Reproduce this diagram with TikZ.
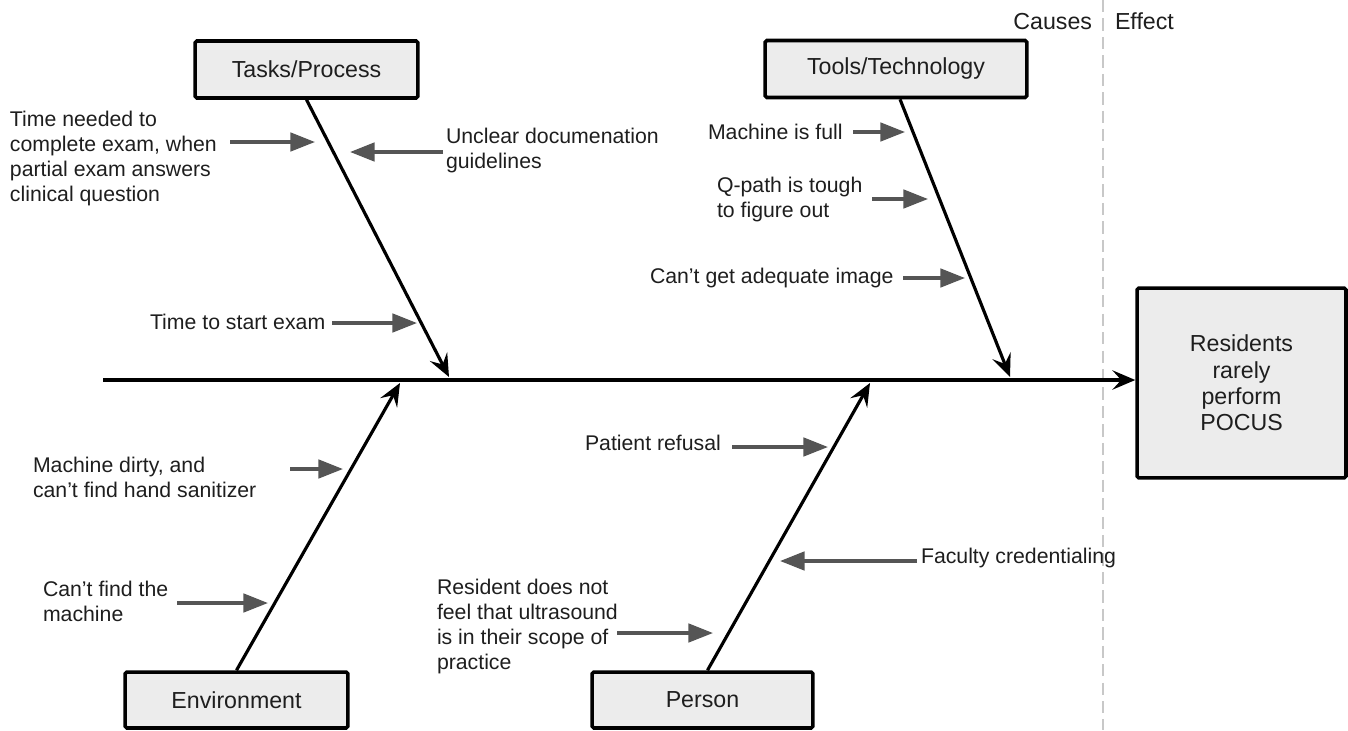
\documentclass[tikz,border=0pt]{standalone}
\usepackage{fontspec}
\setmainfont{Liberation Sans}
\usetikzlibrary{arrows.meta,calc}
\definecolor{agray}{RGB}{85,85,85}
\definecolor{boxfill}{RGB}{236,236,236}
\definecolor{txt}{RGB}{30,30,30}
\definecolor{dashgray}{RGB}{200,200,200}
\begin{document}
\begin{tikzpicture}[x=0.02cm,y=-0.02cm,
  lbl/.style={inner sep=0pt, outer sep=0pt, align=left, text=txt, font=\fontsize{12.1}{14.2}\selectfont},
  catbox/.style={draw=black, line width=2pt, fill=boxfill, rounded corners=1pt, text=txt, font=\fontsize{13.2}{15}\selectfont, inner sep=0pt},
  bone/.style={line width=1.8pt, -{Stealth[length=13pt,width=11pt,inset=5pt]}},
  garrow/.style={draw=agray, line width=1.9pt, -{Triangle[length=14pt,width=10.5pt]}},
  divider/.style={draw=dashgray, line width=1.2pt, dash pattern=on 7pt off 3.5pt}]
\useasboundingbox (0,0) rectangle (1348,730);

% divider and headings
\coordinate (dtop) at (1103,0);
\coordinate (dbot) at (1103,730);
\draw[divider] (dtop) -- (dbot);
\node[lbl, font=\fontsize{13.2}{15}\selectfont, anchor=base east] (causes) at (1092,30) {Causes};
\node[lbl, font=\fontsize{13.2}{15}\selectfont, anchor=base west] (effecthead) at (1115,30) {Effect};

% category boxes
\node[catbox, minimum width=4.46cm, minimum height=1.14cm] (tasks) at (306.5,69.5) {Tasks/Process};
\node[catbox, minimum width=5.24cm, minimum height=1.14cm] (tools) at (896,69) {Tools/Technology};
\node[catbox, minimum width=4.46cm, minimum height=1.12cm] (env) at (236.5,700) {Environment};
\node[catbox, minimum width=4.42cm, minimum height=1.12cm] (person) at (702.5,700) {Person};
\node[catbox, minimum width=4.18cm, minimum height=3.8cm, align=center] (effect) at (1241.5,383) {Residents\\rarely\\perform\\POCUS};

% spine
\coordinate (tail) at (103,380);
\draw[bone] (tail) -- (tail -| effect.west);

% bones
\coordinate (ttip) at (449,377);
\draw[bone] (tasks.south) -- (ttip);
\coordinate (tooltip) at (1010,377);
\draw[bone] ($(tools.south)+(4,0)$) -- (tooltip);
\coordinate (etip) at (400,383);
\draw[bone] (env.north) -- (etip);
\coordinate (ptip) at (870,383);
\draw[bone] ($(person.north)+(5,0)$) -- (ptip);

% Tasks/Process causes
\node[lbl, anchor=north west] (c1) at (10,111) {Time needed to\\complete exam, when\\partial exam answers\\clinical question};
\coordinate (c1s) at (230,142); \coordinate (c1e) at (315,142);
\draw[garrow] (c1s) -- (c1e);
\node[lbl, anchor=north west] (c2) at (446,128) {Unclear documenation\\guidelines};
\coordinate (c2s) at (443,152); \coordinate (c2e) at (350,152);
\draw[garrow] (c2s) -- (c2e);
\node[lbl, anchor=base west] (c3) at (150,329) {Time to start exam};
\coordinate (c3s) at (332,323); \coordinate (c3e) at (417,323);
\draw[garrow] (c3s) -- (c3e);

% Tools/Technology causes
\node[lbl, anchor=base west] (c4) at (708,139) {Machine is full};
\coordinate (c4s) at (853,132); \coordinate (c4e) at (905,132);
\draw[garrow] (c4s) -- (c4e);
\node[lbl, anchor=north west] (c5) at (717,177) {Q-path is tough\\to figure out};
\coordinate (c5s) at (872,199); \coordinate (c5e) at (928,199);
\draw[garrow] (c5s) -- (c5e);
\node[lbl, anchor=base west] (c6) at (650,283) {Can’t get adequate image};
\coordinate (c6s) at (903,278); \coordinate (c6e) at (965,278);
\draw[garrow] (c6s) -- (c6e);

% Environment causes
\node[lbl, anchor=north west] (c7) at (33,457) {Machine dirty, and\\can’t find hand sanitizer};
\coordinate (c7s) at (290,469); \coordinate (c7e) at (343,469);
\draw[garrow] (c7s) -- (c7e);
\node[lbl, anchor=north west] (c8) at (43,581) {Can’t find the\\machine};
\coordinate (c8s) at (177,603); \coordinate (c8e) at (268,603);
\draw[garrow] (c8s) -- (c8e);

% Person causes
\node[lbl, anchor=base west] (c9) at (585,450) {Patient refusal};
\coordinate (c9s) at (732,447); \coordinate (c9e) at (828,447);
\draw[garrow] (c9s) -- (c9e);
\node[lbl, anchor=base west] (c10) at (921,563) {Faculty credentialing};
\coordinate (c10s) at (917,561); \coordinate (c10e) at (780,561);
\draw[garrow] (c10s) -- (c10e);
\node[lbl, anchor=north west] (c11) at (437,579) {Resident does not\\feel that ultrasound\\is in their scope of\\practice};
\coordinate (c11s) at (617,633); \coordinate (c11e) at (713,633);
\draw[garrow] (c11s) -- (c11e);
\end{tikzpicture}
\end{document}
